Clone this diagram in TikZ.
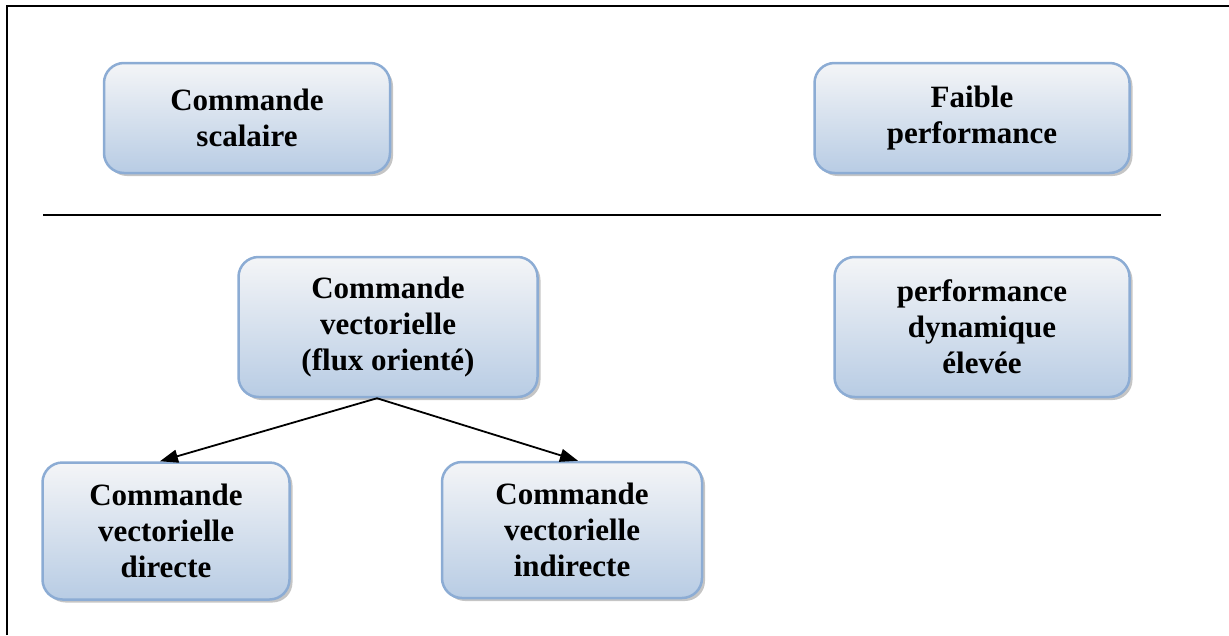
\documentclass[tikz,border=0pt]{standalone}
\usepackage{fontspec}
\setmainfont{Liberation Serif}
\usepackage{xcolor}
\usepackage{tikz}
\usetikzlibrary{arrows.meta, positioning, shadows}
\definecolor{boxedge}{RGB}{140, 172, 212}
\definecolor{boxtop}{RGB}{244, 245, 247}
\definecolor{boxbottom}{RGB}{184, 204, 228}

\begin{document}
\begin{tikzpicture}[
  x=1pt, y=-1pt,
  box/.style={draw=boxedge, line width=2.5pt, rounded corners=20pt,
    top color=boxtop, bottom color=boxbottom, align=center,
    font=\fontsize{31}{36}\selectfont\bfseries, inner sep=0pt,
    drop shadow={shadow xshift=3pt, shadow yshift=-3pt, fill=gray!90}},
  frame/.style={line width=2pt},
  arr/.style={-{Triangle[length=18pt, width=13pt]}, line width=1.8pt}
]
\useasboundingbox (0,0) rectangle (1229,635);
\draw[frame] (7,635) -- (7,6) -- (1229,6);

\node[box, minimum width=286pt, minimum height=110pt] (scal) at (247,118) {Commande\\scalaire};
\node[box, minimum width=315pt, minimum height=110pt] (faible) at (972,118) {Faible\\performance};

\draw[frame] (43,215) -- (1161,215);

\node[box, minimum width=299pt, minimum height=140pt] (vec) at (388,327) {Commande\\vectorielle\\(flux orienté)};
\node[box, minimum width=295pt, minimum height=140pt] (perf) at (982,327) {performance\\dynamique\\élevée};
\node[box, minimum width=247pt, minimum height=137pt] (dir) at (166,531) {Commande\\vectorielle\\directe};
\node[box, minimum width=260pt, minimum height=136pt] (indir) at (572,530) {Commande\\vectorielle\\indirecte};

\draw[arr] ([xshift=-11pt]vec.south) -- ([xshift=-6pt]dir.north);
\draw[arr] ([xshift=-11pt]vec.south) -- ([xshift=6pt]indir.north);
\end{tikzpicture}
\end{document}
